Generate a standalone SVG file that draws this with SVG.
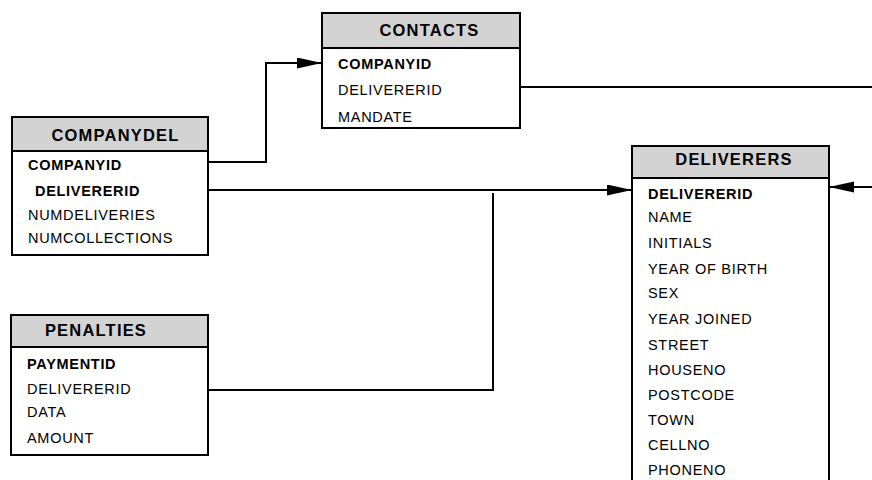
<svg xmlns="http://www.w3.org/2000/svg" width="872" height="480" viewBox="0 0 872 480">
  <style>
    .box { fill: #ffffff; stroke: #000000; stroke-width: 2; }
    .hdr { fill: #d3d3d3; stroke: #000000; stroke-width: 2; }
    .ht { font-family: "Liberation Sans", Arial, sans-serif; font-size: 16.5px; font-weight: bold; letter-spacing: 1.2px; text-anchor: middle; fill: #000; }
    .f { font-family: "Liberation Sans", Arial, sans-serif; font-size: 14.5px; letter-spacing: 0.7px; fill: #000; }
    .k { font-weight: bold; }
    .conn { fill: none; stroke: #000000; stroke-width: 2; }
  </style>
  <defs>
    <marker id="arr" markerUnits="userSpaceOnUse" markerWidth="26" markerHeight="12" refX="25" refY="5.5" orient="auto">
      <path d="M0,0 L25,5.5 L0,11 z" fill="#000"/>
    </marker>
  </defs>
  <rect width="872" height="480" fill="#ffffff"/>

  <g id="connectors">
    <path class="conn" d="M208,162 H266 V63 H322" marker-end="url(#arr)"/>
    <path class="conn" d="M208,190 H632" marker-end="url(#arr)"/>
    <path class="conn" d="M208,390 H493 V193"/>
    <path class="conn" d="M520,87 H880 V187 H829" marker-end="url(#arr)"/>
  </g>

  <g id="contacts">
    <rect class="box" x="322" y="13" width="198" height="115"/>
    <rect class="hdr" x="322" y="13" width="198" height="35"/>
    <text class="ht" x="429.5" y="36">CONTACTS</text>
    <text class="f k" x="338" y="69">COMPANYID</text>
    <text class="f" x="338" y="95">DELIVERERID</text>
    <text class="f" x="338" y="122">MANDATE</text>
  </g>

  <g id="companydel">
    <rect class="box" x="12" y="117" width="196" height="138"/>
    <rect class="hdr" x="12" y="117" width="196" height="34"/>
    <text class="ht" x="115.5" y="141">COMPANYDEL</text>
    <text class="f k" x="28" y="170">COMPANYID</text>
    <text class="f k" x="35" y="196">DELIVERERID</text>
    <text class="f" x="28" y="220">NUMDELIVERIES</text>
    <text class="f" x="28" y="243">NUMCOLLECTIONS</text>
  </g>

  <g id="penalties">
    <rect class="box" x="11" y="315" width="197" height="140"/>
    <rect class="hdr" x="11" y="315" width="197" height="32"/>
    <text class="ht" x="96" y="336">PENALTIES</text>
    <text class="f k" x="27" y="369">PAYMENTID</text>
    <text class="f" x="27" y="394">DELIVERERID</text>
    <text class="f" x="27" y="417">DATA</text>
    <text class="f" x="27" y="443">AMOUNT</text>
  </g>

  <g id="deliverers">
    <rect class="box" x="632" y="146" width="197" height="345"/>
    <rect class="hdr" x="632" y="146" width="197" height="32"/>
    <text class="ht" x="734" y="165">DELIVERERS</text>
    <text class="f k" x="648" y="199">DELIVERERID</text>
    <text class="f" x="648" y="222">NAME</text>
    <text class="f" x="648" y="248">INITIALS</text>
    <text class="f" x="648" y="274">YEAR OF BIRTH</text>
    <text class="f" x="648" y="298">SEX</text>
    <text class="f" x="648" y="324">YEAR JOINED</text>
    <text class="f" x="648" y="350">STREET</text>
    <text class="f" x="648" y="375">HOUSENO</text>
    <text class="f" x="648" y="400">POSTCODE</text>
    <text class="f" x="648" y="425">TOWN</text>
    <text class="f" x="648" y="450">CELLNO</text>
    <text class="f" x="648" y="475">PHONENO</text>
  </g>
</svg>
